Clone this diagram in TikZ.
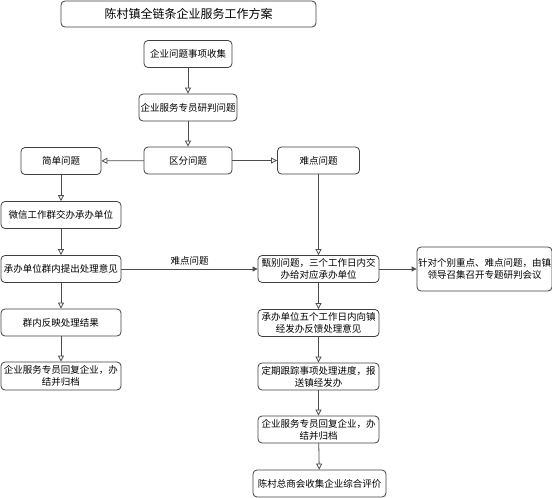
\documentclass[tikz,border=0pt]{standalone}
\usepackage{fontspec}
\newfontfamily\cjk{Noto Sans CJK SC}
\usetikzlibrary{arrows.meta}

\tikzset{
  box/.style={draw=black!75, rounded corners=4pt, line width=0.8pt, fill=white,
    align=center, inner sep=1pt, minimum height=27pt,
    font=\cjk\fontsize{9.5}{12}\selectfont},
  flow/.style={draw=black!70, line width=0.8pt, -{Triangle[open, length=6pt, width=6pt]}},
  push/.style={draw=black!70, line width=0.8pt, -{Triangle[length=5pt, width=5pt]}},
}

\begin{document}
\begin{tikzpicture}[x=1pt, y=-1pt, line cap=round]
    \useasboundingbox (0,0) rectangle (552,498);

    \node[box, minimum width=255pt, minimum height=26pt, font=\cjk\fontsize{12}{14}\selectfont] (title) at (188.5,14) {陈村镇全链条企业服务工作方案};

    \node[box, minimum width=88pt] (collect) at (188,54) {企业问题事项收集};
    \node[box, minimum width=98pt] (judge) at (188,107.5) {企业服务专员研判问题};
    \node[box, minimum width=88pt] (classify) at (188,160.5) {区分问题};
    \node[box, minimum width=80pt] (simple) at (61,161) {简单问题};
    \node[box, minimum width=82pt] (hard) at (318.5,160.5) {难点问题};

    % left column
    \node[box, minimum width=120pt] (wechat) at (61,215) {微信工作群交办承办单位};
    \node[box, minimum width=120pt] (propose) at (61,269) {承办单位群内提出处理意见};
    \node[box, minimum width=120pt] (feedback) at (61,322.5) {群内反映处理结果};
    \node[box, minimum width=120pt, minimum height=28pt] (replyL) at (61,376) {企业服务专员回复企业，办\\结并归档};

    % right column
    \node[box, minimum width=121pt] (screen) at (318.5,269) {甄别问题，三个工作日内交\\办给对应承办单位};
    \node[box, minimum width=135pt, minimum height=44pt] (meeting) at (484.5,269) {针对个别重点、难点问题，由镇\\领导召集召开专题研判会议};
    \node[box, minimum width=121pt] (unitR) at (318.5,323) {承办单位五个工作日内向镇\\经发办反馈处理意见};
    \node[box, minimum width=121pt] (track) at (318.5,376.5) {定期跟踪事项处理进度，报\\送镇经发办};
    \node[box, minimum width=121pt] (replyR) at (318.5,429.5) {企业服务专员回复企业，办\\结并归档};
    \node[box, minimum width=133pt] (eval) at (319.5,483.5) {陈村总商会收集企业综合评价};

    \draw[flow] (collect) -- (judge);
    \draw[flow] (judge) -- (classify);
    \draw[flow] (classify) -- (simple);
    \draw[flow] (classify) -- (hard);
    \draw[flow] (simple) -- (wechat);
    \draw[flow] (wechat) -- (propose);
    \draw[flow] (propose) -- (feedback);
    \draw[flow] (feedback) -- (replyL);
    \draw[push] (propose) -- node[above, font=\cjk\fontsize{9.5}{12}\selectfont] {难点问题} (screen);
    \draw[flow] (hard) -- (screen);
    \draw[push] (screen) -- (meeting);
    \draw[flow] (screen) -- (unitR);
    \draw[flow] (unitR) -- (track);
    \draw[flow] (track) -- (replyR);
    \draw[flow] (replyR) -- (eval);
\end{tikzpicture}
\end{document}
